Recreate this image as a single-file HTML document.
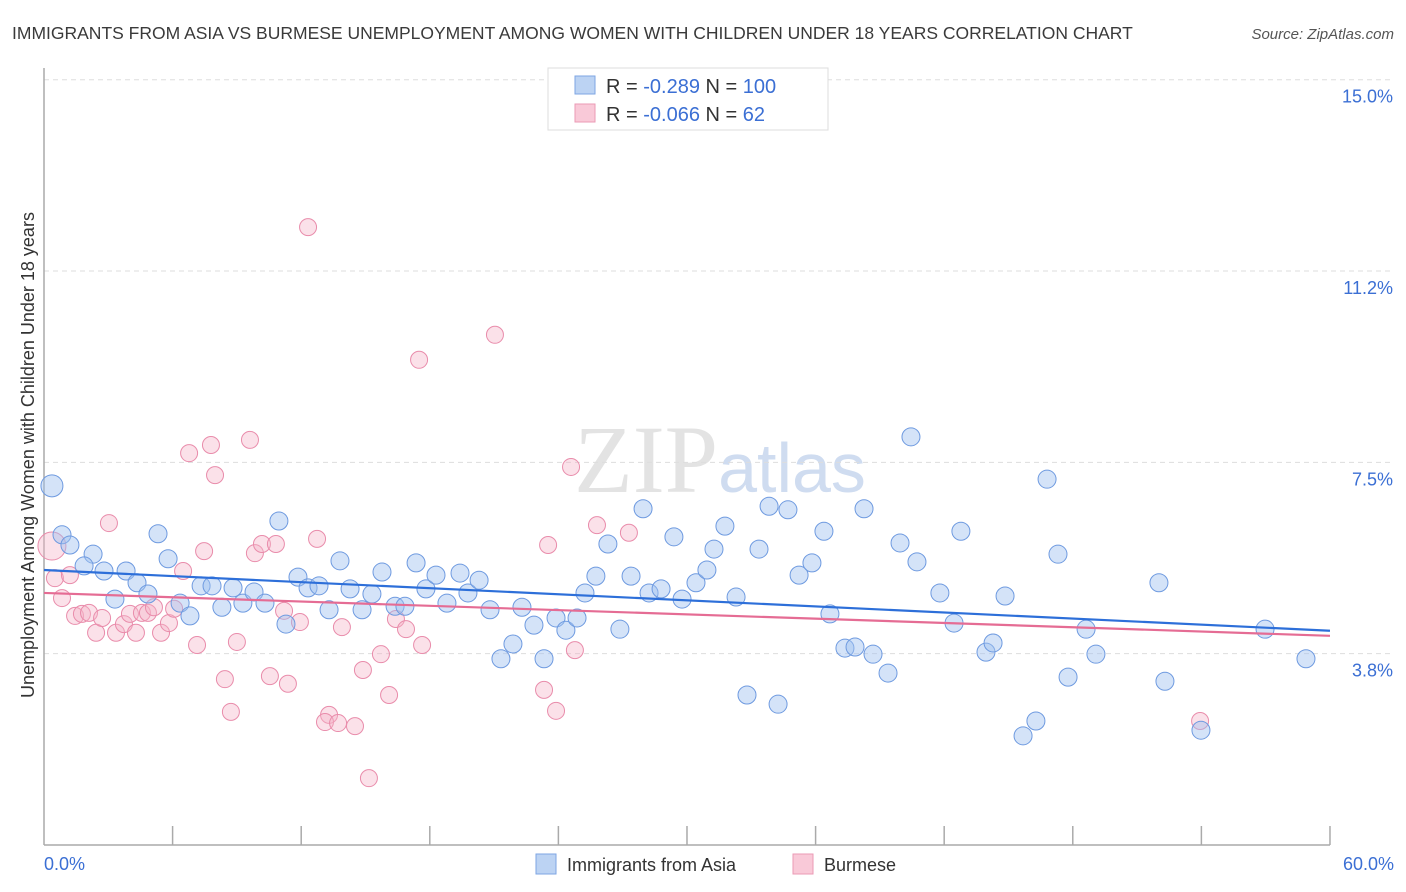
<!DOCTYPE html>
<html><head><meta charset="utf-8">
<style>
body{margin:0;background:#fff;font-family:"Liberation Sans",sans-serif;}
svg{display:block}
</style></head>
<body>
<svg id="chart" width="1406" height="892" xmlns="http://www.w3.org/2000/svg">
<text x="12" y="39" font-size="17.5" fill="#3a3a3a">IMMIGRANTS FROM ASIA VS BURMESE UNEMPLOYMENT AMONG WOMEN WITH CHILDREN UNDER 18 YEARS CORRELATION CHART</text>
<text x="1394" y="39" font-size="15" fill="#555" text-anchor="end" font-style="italic">Source: ZipAtlas.com</text>
<text x="720" y="492" font-size="96" fill="#e3e3e3" text-anchor="middle" font-family="Liberation Serif">ZIP<tspan fill="#cfdcf0" font-family="Liberation Sans" font-size="70">atlas</tspan></text>
<g id="grid"></g>
<line x1="44" y1="68" x2="44" y2="845" stroke="#aaa" stroke-width="1.5"/>
<line x1="44" y1="845" x2="1330" y2="845" stroke="#aaa" stroke-width="1.5"/>
<g id="xticks"></g>
<text transform="translate(34,455) rotate(-90)" font-size="18" fill="#333" text-anchor="middle">Unemployment Among Women with Children Under 18 years</text>
<text x="44" y="870" font-size="18" fill="#3b6fd4">0.0%</text>
<text x="1394" y="870" font-size="18" fill="#3b6fd4" text-anchor="end">60.0%</text>
<g id="pink"></g>
<g id="blue"></g>
<g id="trends"></g>
<g>
<rect x="548" y="68" width="280" height="62" fill="#fff" stroke="#ddd"/>
<rect x="575" y="76" width="20" height="18" fill="#bcd3f3" stroke="#7ea6e3"/>
<rect x="575" y="104" width="20" height="18" fill="#f9c9d8" stroke="#eb9ab5"/>
<text x="606" y="93" font-size="20" fill="#333">R = <tspan fill="#3b6fd4">-0.289</tspan>   N = <tspan fill="#3b6fd4">100</tspan></text>
<text x="606" y="121" font-size="20" fill="#333">R = <tspan fill="#3b6fd4">-0.066</tspan>   N =   <tspan fill="#3b6fd4">62</tspan></text>
</g>
<g>
<rect x="536" y="854" width="20" height="20" fill="#bcd3f3" stroke="#7ea6e3"/>
<text x="567" y="871" font-size="18" fill="#333">Immigrants from Asia</text>
<rect x="793" y="854" width="20" height="20" fill="#f9c9d8" stroke="#eb9ab5"/>
<text x="824" y="871" font-size="18" fill="#333">Burmese</text>
</g>
</svg>
<script>
const yTicks=[3.75,7.5,11.25,15];
const yTickLabels=["3.8%","7.5%","11.2%","15.0%"];
const xTicks=[6,12,18,24,30,36,42,48,54,60];
const bluePx=[[52,486],[62,535],[70,545],[93,554],[84,566],[104,571],[126,571],[137,583],[115,599],[148,594],[158,534],[168,559],[180,603],[190,616],[201,586],[212,586],[222,607],[233,588],[243,603],[254,592],[265,603],[279,521],[286,624],[298,577],[308,588],[319,586],[329,610],[340,561],[350,589],[362,610],[372,594],[382,572],[395,606],[405,606],[416,563],[426,589],[436,575],[447,603],[460,573],[468,593],[479,580],[490,610],[501,659],[513,644],[522,607],[534,625],[544,659],[556,618],[566,630],[577,618],[585,593],[596,576],[608,544],[620,629],[631,576],[643,509],[649,593],[661,589],[674,537],[682,599],[696,583],[707,570],[714,549],[725,526],[736,597],[747,695],[759,549],[769,506],[778,704],[788,510],[799,575],[812,563],[824,531],[830,614],[845,648],[855,647],[864,509],[873,654],[888,673],[900,543],[911,437],[917,562],[940,593],[954,623],[961,531],[986,652],[993,643],[1005,596],[1023,736],[1036,721],[1047,479],[1058,554],[1068,677],[1086,629],[1096,654],[1159,583],[1165,681],[1201,730],[1265,629],[1306,659]];
const pinkPx=[[52,546],[55,578],[62,598],[70,575],[75,616],[82,614],[89,613],[96,633],[102,618],[109,523],[116,633],[124,624],[130,614],[136,633],[142,613],[148,613],[154,607],[161,633],[169,623],[174,609],[183,571],[189,453],[197,645],[204,551],[211,445],[215,475],[225,679],[231,712],[237,642],[250,440],[255,553],[262,544],[270,676],[276,544],[284,611],[288,684],[300,622],[308,227],[317,539],[329,715],[325,722],[342,627],[338,723],[355,726],[363,670],[369,778],[381,654],[389,695],[396,619],[406,629],[419,360],[422,645],[495,335],[544,690],[548,545],[556,711],[571,467],[575,650],[597,525],[629,533],[1200,721]];
// data values (x %, y %) derived from the reference
const blueX=bluePx.map(p=>+((p[0]-44)/21.433).toFixed(2));
const blueY=bluePx.map(p=>+((845-p[1])/51.02).toFixed(2));
const pinkX=pinkPx.map(p=>+((p[0]-44)/21.433).toFixed(2));
const pinkY=pinkPx.map(p=>+((845-p[1])/51.02).toFixed(2));
const blueTrend=[5.39,4.20];
const pinkTrend=[4.94,4.10];
const X=v=>44+v*21.433, Y=v=>845-v*51.02;
const NS="http://www.w3.org/2000/svg";
function mk(t,a,p){const e=document.createElementNS(NS,t);for(const k in a)e.setAttribute(k,a[k]);p.appendChild(e);return e;}
const grid=document.getElementById('grid');
yTicks.forEach((v,i)=>{
 const l=mk('line',{x1:44,x2:1394,y1:Y(v),y2:Y(v),stroke:'#ddd','stroke-dasharray':'5,4'},grid);
 
 
 const t=mk('text',{x:1393,y:Y(v)+23,'font-size':18,fill:'#3b6fd4','text-anchor':'end'},grid);
 t.textContent=yTickLabels[i];
 
 
});
const xt=document.getElementById('xticks');
xTicks.forEach(v=>{
 const l=mk('line',{x1:X(v),x2:X(v),y1:826,y2:845,stroke:'#aaa','stroke-width':1.5},xt);
 
 
});
const pg=document.getElementById('pink');
pinkX.forEach((x,i)=>{
 const r=i==0?14:8.5;
 const c=mk('circle',{cx:X(x),cy:Y(pinkY[i]),r:r,fill:'rgba(246,180,201,0.4)',stroke:'#e98cab','stroke-width':1},pg);
 
 
});
const bg=document.getElementById('blue');
blueX.forEach((x,i)=>{
 const r=i==0?11:9;
 const c=mk('circle',{cx:X(x),cy:Y(blueY[i]),r:r,fill:'rgba(160,193,240,0.45)',stroke:'#6e9ae0','stroke-width':1},bg);
 
 
});
const tg=document.getElementById('trends');
const bl=mk('line',{x1:X(0),y1:Y(blueTrend[0]),x2:X(60),y2:Y(blueTrend[1]),stroke:'#2d6fd9','stroke-width':2.2},tg);


const pl=mk('line',{x1:X(0),y1:Y(pinkTrend[0]),x2:X(60),y2:Y(pinkTrend[1]),stroke:'#e56c94','stroke-width':2.2},tg);


</script>
</body></html>
